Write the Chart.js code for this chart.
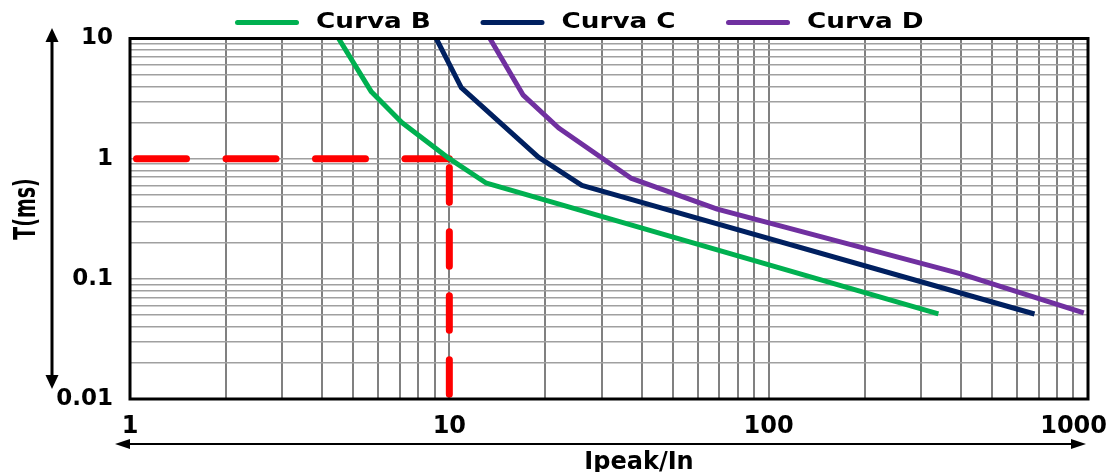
<!DOCTYPE html>
<html>
<head>
<meta charset="utf-8">
<script src="https://cdn.jsdelivr.net/npm/chart.js@4.4.0/dist/chart.umd.min.js"></script>
<style>
  html, body { margin: 0; padding: 0; background: #fff; }
  canvas { display: block; }
</style>
</head>
<body>
<canvas id="chartCurve" width="1111" height="472"></canvas>
<script>
// dati (x = Ipeak/In, y = T in ms)
const curvaB_x = [4.5, 5.7, 7.1, 10, 13, 340];
const curvaB_y = [10, 3.6, 2.0, 1.0, 0.63, 0.051];
const curvaC_x = [9.1, 10.9, 19, 26, 680];
const curvaC_y = [10, 3.9, 1.03, 0.6, 0.051];
const curvaD_x = [13.4, 17, 22, 37, 69, 400, 970];
const curvaD_y = [10, 3.4, 1.8, 0.69, 0.38, 0.11, 0.052];
// riferimento tratteggiato (10 x In -> 1 ms)
const rif_x = [1, 10, 10];
const rif_y = [1, 1, 0.01];

const nomiCurve = ['Curva B', 'Curva C', 'Curva D'];
const coloriCurve = ['#00b050', '#002060', '#7030a0'];

const xTickLabels = ['1', '10', '100', '1000'];
const yTickLabels = ['0.01', '0.1', '1', '10'];
const titoloX = 'Ipeak/In';
const titoloY = 'T(ms)';

Chart.defaults.font.family = '"DejaVu Sans"';

// griglia logaritmica 1..9 per ogni decade
function grigliaLog(etichette) {
    const dec = etichette.map(Number);
    const vals = [];
    for (let i = 0; i < dec.length - 1; i++)
        for (let k = 1; k < 10; k++) vals.push(+(dec[i] * k).toPrecision(4));
    vals.push(dec[dec.length - 1]);
    return vals;
}
const grigliaX = grigliaLog(xTickLabels);
const grigliaY = grigliaLog(yTickLabels);

const punti = (xs, ys) => xs.map((x, i) => ({ x: x, y: ys[i] }));
const serieX = [curvaB_x, curvaC_x, curvaD_x];
const serieY = [curvaB_y, curvaC_y, curvaD_y];

const datasets = nomiCurve.map((nome, i) => ({
    label: nome,
    data: punti(serieX[i], serieY[i]),
    borderColor: coloriCurve[i],
    backgroundColor: coloriCurve[i],
    borderWidth: 5,
    borderJoinStyle: 'round',
    pointRadius: 0,
    showLine: true,
    tension: 0
}));
// tratto orizzontale e verticale del riferimento
datasets.push({
    label: 'rif-h',
    data: punti(rif_x.slice(0, 2), rif_y.slice(0, 2)),
    borderColor: '#ff0000',
    borderWidth: 7,
    borderCapStyle: 'round',
    borderDash: [50, 39.5],
    borderDashOffset: 83,
    pointRadius: 0,
    showLine: true
});
datasets.push({
    label: 'rif-v',
    data: punti(rif_x.slice(1), rif_y.slice(1)),
    borderColor: '#ff0000',
    borderWidth: 7,
    borderCapStyle: 'round',
    borderDash: [34.5, 29.5],
    borderDashOffset: 55,
    pointRadius: 0,
    showLine: true
});

// freccia a doppia punta
function freccia(ctx, x1, y1, x2, y2, spessore, lungTesta, semiTesta) {
    const ang = Math.atan2(y2 - y1, x2 - x1);
    const len = Math.hypot(x2 - x1, y2 - y1);
    ctx.save();
    ctx.translate(x1, y1);
    ctx.rotate(ang);
    ctx.fillStyle = '#000';
    ctx.fillRect(lungTesta - 1, -spessore / 2, len - 2 * lungTesta + 2, spessore);
    ctx.beginPath();
    ctx.moveTo(0, 0); ctx.lineTo(lungTesta, -semiTesta); ctx.lineTo(lungTesta, semiTesta);
    ctx.closePath(); ctx.fill();
    ctx.beginPath();
    ctx.moveTo(len, 0); ctx.lineTo(len - lungTesta, -semiTesta); ctx.lineTo(len - lungTesta, semiTesta);
    ctx.closePath(); ctx.fill();
    ctx.restore();
}

const decorazioni = {
    id: 'decorazioni',
    beforeDraw(chart) {
        const ctx = chart.ctx;
        ctx.save();
        ctx.fillStyle = '#fff';
        ctx.fillRect(0, 0, chart.width, chart.height);
        ctx.restore();
    },
    afterDraw(chart) {
        const { ctx, chartArea: a, scales } = chart;
        ctx.save();
        // cornice
        ctx.strokeStyle = '#000';
        ctx.lineWidth = 3;
        ctx.strokeRect(a.left, a.top, a.right - a.left, a.bottom - a.top);

        // frecce degli assi
        freccia(ctx, 52, 28, 52, 389, 3, 14, 6.5);
        freccia(ctx, 115, 444, 1086, 444, 2, 15, 5);

        // etichette asse x
        ctx.fillStyle = '#000';
        ctx.font = 'bold 24px "DejaVu Sans"';
        ctx.textAlign = 'center';
        ctx.textBaseline = 'alphabetic';
        xTickLabels.forEach(t => {
            const w = ctx.measureText(t).width;
            let px = scales.x.getPixelForValue(Number(t));
            px = Math.min(px, chart.width - w / 2 - 4);
            ctx.fillText(t, px, 433);
        });
        ctx.fillText(titoloX, 639, 469);

        // legenda
        ctx.textAlign = 'left';
        ctx.textBaseline = 'middle';
        ctx.font = 'bold 21px "DejaVu Sans"';
        ctx.lineCap = 'round';
        ctx.lineWidth = 5;
        nomiCurve.forEach((nome, i) => {
            const x0 = 235 + i * 245.5;
            ctx.strokeStyle = coloriCurve[i];
            ctx.beginPath();
            ctx.moveTo(x0 + 2.5, 22.5);
            ctx.lineTo(x0 + 61.5, 22.5);
            ctx.stroke();
            ctx.save();
            ctx.translate(x0 + 81, 23);
            ctx.scale(1.25, 1);
            ctx.fillText(nome, 0, 0);
            ctx.restore();
        });

        // titolo asse y
        ctx.translate(27, 209);
        ctx.rotate(-Math.PI / 2);
        ctx.scale(1, 1.6);
        ctx.textAlign = 'center';
        ctx.font = 'bold 19px "DejaVu Sans"';
        ctx.fillText(titoloY, 0, 0);
        ctx.restore();
    }
};

const ctx = document.getElementById('chartCurve').getContext('2d');
const chartCurve = new Chart(ctx, {
    type: 'scatter',
    data: { datasets: datasets },
    options: {
        responsive: false,
        animation: false,
        layout: { padding: { top: 38.5, right: 23, bottom: 0, left: 0 } },
        plugins: {
            legend: { display: false },
            tooltip: { enabled: false }
        },
        scales: {
            x: {
                type: 'logarithmic',
                position: 'bottom',
                min: 1,
                max: 1000,
                afterBuildTicks: s => { s.ticks = grigliaX.map(v => ({ value: v })); },
                afterFit: s => { s.height = 73; },
                ticks: { display: false },
                grid: { color: '#808080', lineWidth: 2, drawTicks: false },
                border: { display: false }
            },
            y: {
                type: 'logarithmic',
                min: 0.01,
                max: 10,
                afterBuildTicks: s => { s.ticks = grigliaY.map(v => ({ value: v })); },
                afterFit: s => { s.width = 130; },
                ticks: {
                    autoSkip: false,
                    padding: 17,
                    color: '#000',
                    font: { size: 23, weight: 'bold' },
                    callback: v => yTickLabels.includes(String(v)) ? String(v) : ''
                },
                grid: { color: '#a0a0a0', lineWidth: 1.6, drawTicks: false },
                border: { display: false }
            }
        }
    },
    plugins: [decorazioni]
});
</script>
</body>
</html>
